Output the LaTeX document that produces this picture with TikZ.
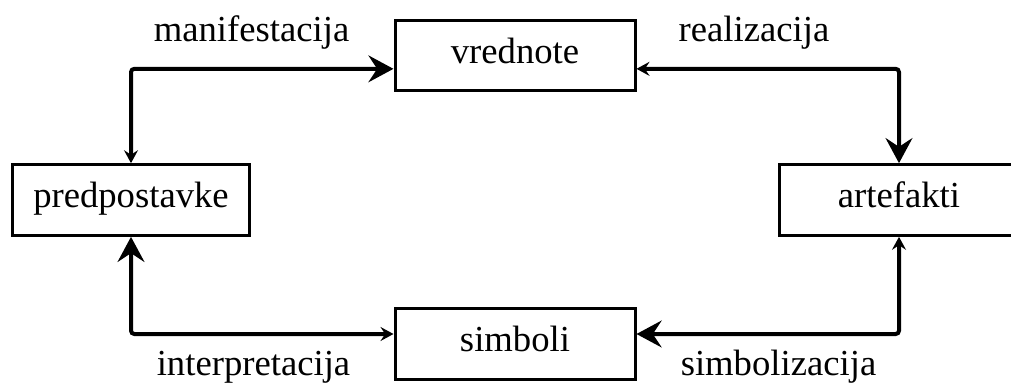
\documentclass[tikz,border=0pt]{standalone}
\usepackage{fontspec}
\setmainfont{Liberation Serif}
\usetikzlibrary{arrows.meta}

\tikzset{
  box/.style={draw, line width=2.25pt, inner sep=0pt,
    minimum width=180pt, minimum height=53pt,
    text height=19.5pt, text depth=8.25pt,
    font=\fontsize{27.5pt}{30pt}\selectfont},
  lbl/.style={anchor=base, inner sep=0pt, font=\fontsize{27.5pt}{30pt}\selectfont},
  conn/.style={line width=3pt, rounded corners=2.5pt},
  bigtip/.tip={Stealth[length=18.75pt, width=20pt, inset=6.5pt]},
  smltip/.tip={Stealth[length=9.75pt, width=10.5pt, inset=3.5pt]}
}

\begin{document}
\begin{tikzpicture}[x=0.75pt, y=-0.75pt]
  \useasboundingbox (0,0) rectangle (1011,383);

  % the four boxes
  \node[box] (vr) at (515,55.5) {vrednote};
  \node[box] (si) at (515,344) {simboli};
  \node[box, minimum width=178pt] (pp) at (131,200) {predpostavke};
  \node[box] (ar) at (899,200) {artefakti};

  % connectors round the cycle
  \draw[conn, smltip-bigtip]
    (pp.north) |- ([yshift=-10pt]vr.west);
  \draw[conn, smltip-bigtip]
    ([yshift=-10pt]vr.east) -| (ar.north);
  \draw[conn, smltip-bigtip]
    ([yshift=7.5pt]si.west) -| (pp.south);
  \draw[conn, smltip-bigtip]
    (ar.south) |- ([yshift=7.5pt]si.east);

  % connector labels
  \node[lbl] (lm) at (251.5,41.5) {manifestacija};
  \node[lbl] (lr) at (754,41.5) {realizacija};
  \node[lbl] (li) at (253.5,375.5) {interpretacija};
  \node[lbl] (ls) at (778.5,375.5) {simbolizacija};
\end{tikzpicture}
\end{document}
